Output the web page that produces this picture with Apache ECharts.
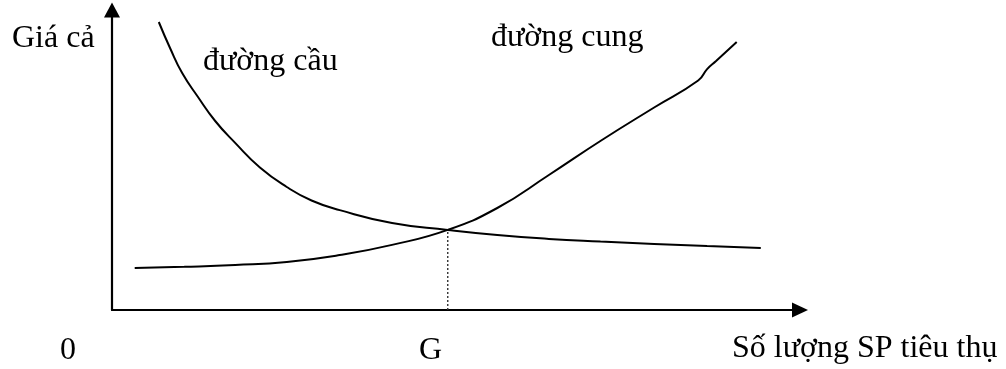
<!DOCTYPE html>
<html>
<head>
<meta charset="utf-8">
<script src="https://cdn.jsdelivr.net/npm/echarts@6/dist/echarts.min.js"></script>
<style>
  html, body { margin: 0; padding: 0; background: #fff; }
  #chart { width: 1006px; height: 369px; }
</style>
</head>
<body>
<div id="chart"></div>
<script>
// Quantity (x) and price (y) in arbitrary units, 0..100 on both axes
const demandX = [6.8, 8.5, 10.2, 12.5, 15.0, 17.9, 21.5, 25.4, 29.0, 33.1, 40.7, 48.8, 56.0, 63.5, 71.0, 78.8, 86.5, 94.3];
const demandY = [96.0, 87.0, 79.0, 71.0, 63.0, 55.7, 47.5, 41.0, 36.5, 33.3, 29.0, 26.7, 25.0, 23.7, 22.8, 22.0, 21.3, 20.7];
const supplyX = [3.3, 10.5, 17.9, 25.4, 33.1, 40.7, 48.8, 56.0, 63.5, 71.1, 78.8, 85.2, 86.5, 87.8, 90.8];
const supplyY = [14.0, 14.4, 15.0, 16.0, 18.3, 21.7, 26.7, 34.0, 45.0, 56.5, 67.5, 76.5, 80.3, 83.0, 89.3];
const equilibrium = [48.8, 26.7];
const labels = {
  yName: 'Giá cả',
  xName: 'Số lượng SP tiêu thụ',
  origin: '0',
  eqQty: 'G',
  demand: 'đường cầu',
  supply: 'đường cung'
};

const zip = (xs, ys) => xs.map((x, i) => [x, ys[i]]);
const FONT = '32px "Liberation Serif", "Times New Roman", serif';

const chart = echarts.init(document.getElementById('chart'), null, { renderer: 'canvas' });

function axisCommon(sym) {
  return {
    type: 'value', min: 0, max: 100,
    axisLine: { show: true, onZero: false, symbol: ['none', 'triangle'], symbolSize: sym,
      lineStyle: { color: '#000', width: 2.2 } },
    axisTick: { show: false }, axisLabel: { show: false }, splitLine: { show: false }
  };
}

function txt(text, x, y) {
  return { type: 'text', x: x, y: y, style: { text: text, font: FONT, fill: '#000', textAlign: 'left', textVerticalAlign: 'middle' } };
}

chart.setOption({
  animation: false,
  backgroundColor: '#fff',
  grid: { left: 112, top: 10, width: 688, height: 300 },
  xAxis: axisCommon([15, 16]),
  yAxis: axisCommon([16, 15]),
  series: [
    { type: 'line', data: zip(demandX, demandY), smooth: 0.5, showSymbol: false,
      lineStyle: { color: '#000', width: 2 } },
    { type: 'line', data: zip(supplyX, supplyY), smooth: 0.5, showSymbol: false,
      lineStyle: { color: '#000', width: 2 } },
    { type: 'line', data: [[equilibrium[0], 0], equilibrium], showSymbol: false,
      lineStyle: { color: '#333', width: 1.4, type: [2, 2] } }
  ],
  graphic: [
    txt(labels.yName, 12, 39),
    txt(labels.demand, 203, 62),
    txt(labels.supply, 491, 38),
    txt(labels.origin, 60, 351),
    txt(labels.eqQty, 419, 351),
    txt(labels.xName, 732, 349)
  ]
});
</script>
</body>
</html>
